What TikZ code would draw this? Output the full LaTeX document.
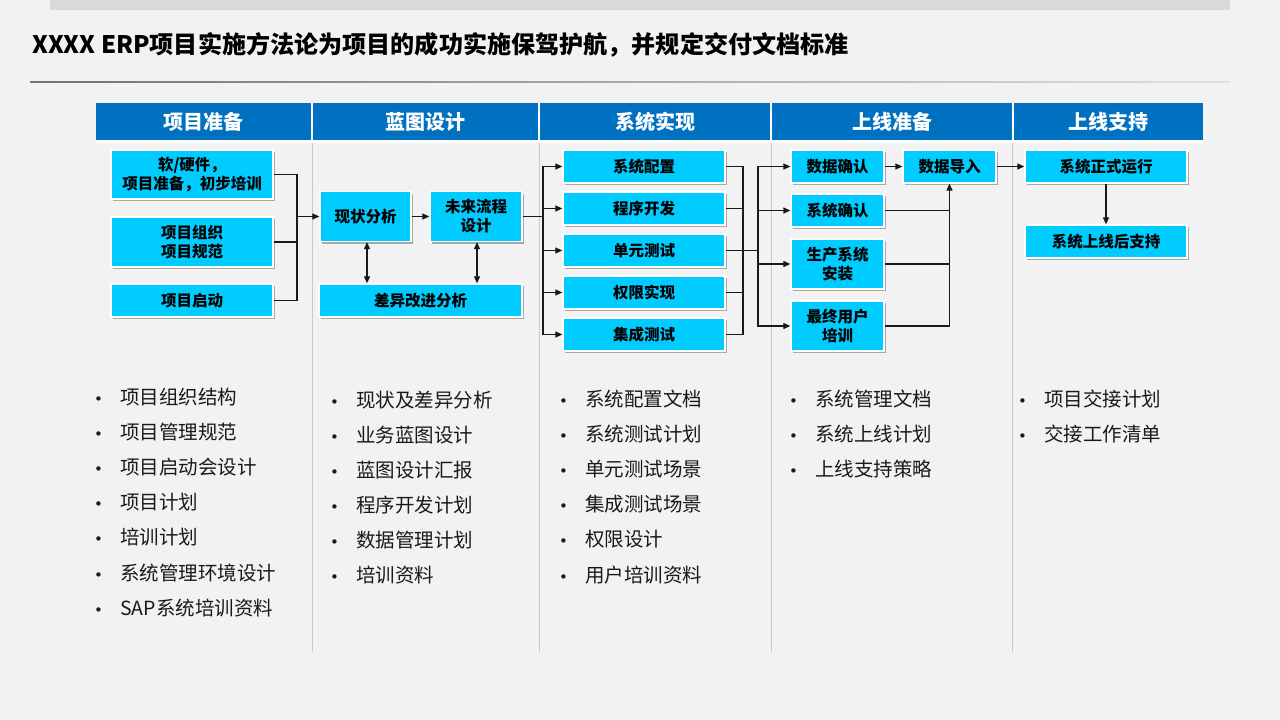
\documentclass[tikz,border=0pt]{standalone}
\usepackage{fontspec}
\setmainfont{Noto Sans CJK SC}
\newfontfamily\dejavu{DejaVu Sans}
\usetikzlibrary{arrows.meta,shadows}
\definecolor{bgc}{HTML}{F2F2F2}
\definecolor{barc}{HTML}{D9D9D9}
\definecolor{hdrc}{HTML}{0070C0}
\definecolor{boxc}{HTML}{00CCFF}
\definecolor{sepc}{HTML}{C8C8C8}
\begin{document}
\begin{tikzpicture}[x=1pt,y=-1pt,
  box/.style={rectangle, fill=boxc, draw=white, line width=1.3pt, inner sep=0pt, align=center,
    font=\bfseries\fontsize{15.5}{19}\selectfont,
    drop shadow={shadow xshift=2pt, shadow yshift=-2pt, opacity=0.3, fill=black}},
  hdr/.style={rectangle, fill=hdrc, inner sep=0pt, text=white, minimum height=37pt,
    font=\bfseries\fontsize{20}{24}\selectfont},
  conn/.style={line width=1.1pt, draw=black!90},
  arr/.style={conn, -{Triangle[length=7pt,width=6pt]}},
  dbl/.style={conn, {Triangle[length=7pt,width=6pt]}-{Triangle[length=7pt,width=6pt]}},
  bul/.style={anchor=base west, inner sep=0pt, font=\fontsize{19.5}{22}\selectfont, text=black!90},
  dot/.style={anchor=base west, inner sep=0pt, font=\dejavu\fontsize{15}{18}\selectfont, text=black!90},
]
\useasboundingbox (0,0) rectangle (1280,720);
\fill[bgc] (0,0) rectangle (1280,720);
\fill[barc] (50,0) rectangle (1230,10);

% title
\node[anchor=west, inner sep=0pt, font=\bfseries\fontsize{24.1}{28}\selectfont] (title) at (32,45)
  {XXXX ERP项目实施方法论为项目的成功实施保驾护航，并规定交付文档标准};
\shade[left color=black!55, right color=black!12] (30,81.5) rectangle (1230,82.6);

% header
\fill[white] (96,103) rectangle (1203,143);
\node[hdr, minimum width=215pt, anchor=north west] (h1) at (96,103) {项目准备};
\node[hdr, minimum width=225pt, anchor=north west] (h2) at (313,103) {蓝图设计};
\node[hdr, minimum width=230pt, anchor=north west] (h3) at (540,103) {系统实现};
\node[hdr, minimum width=240pt, anchor=north west] (h4) at (772,103) {上线准备};
\node[hdr, minimum width=189pt, anchor=north west] (h5) at (1014,103) {上线支持};

% separators
\foreach \x in {312,539,771,1012} \draw[sepc, line width=1pt] (\x,143) -- (\x,652);

% column 1
\node[box, minimum width=162pt, minimum height=49pt] (k1) at (192,174.5) {软/硬件，\\项目准备，初步培训};
\node[box, minimum width=162pt, minimum height=50pt] (k2) at (192,242) {项目组织\\项目规范};
\node[box, minimum width=162pt, minimum height=33pt] (k3) at (192,300.5) {项目启动};

% column 2
\node[box, minimum width=91pt, minimum height=50pt] (x1) at (365.5,216.5) {现状分析};
\node[box, minimum width=92pt, minimum height=50pt] (x2) at (476,216.5) {未来流程\\设计};
\node[box, minimum width=203pt, minimum height=33pt] (x3) at (420.5,300.5) {差异改进分析};

% column 3
\node[box, minimum width=162pt, minimum height=33pt] (s1) at (644,166.5) {系统配置};
\node[box, minimum width=162pt, minimum height=33pt] (s2) at (644,208.5) {程序开发};
\node[box, minimum width=162pt, minimum height=33pt] (s3) at (644,250.5) {单元测试};
\node[box, minimum width=162pt, minimum height=33pt] (s4) at (644,292.5) {权限实现};
\node[box, minimum width=162pt, minimum height=33pt] (s5) at (644,334.5) {集成测试};

% column 4
\node[box, minimum width=93pt, minimum height=33pt] (d1) at (837.5,166.5) {数据确认};
\node[box, minimum width=93pt, minimum height=33pt] (d2) at (837.5,210.5) {系统确认};
\node[box, minimum width=93pt, minimum height=50pt] (d3) at (837.5,264) {生产系统\\安装};
\node[box, minimum width=93pt, minimum height=50pt] (d4) at (837.5,326) {最终用户\\培训};
\node[box, minimum width=93pt, minimum height=33pt] (d5) at (949.5,166.5) {数据导入};

% column 5
\node[box, minimum width=162pt, minimum height=33pt] (e1) at (1106,166.5) {系统正式运行};
\node[box, minimum width=162pt, minimum height=33pt] (e2) at (1106,241.5) {系统上线后支持};

% connectors col1 -> col2
\coordinate (bus1) at (297,216.5);
\draw[conn] (k1.east) -| (bus1);
\draw[conn] (k2.east) -| (bus1);
\draw[conn] (k3.east) -| (bus1);
\draw[arr] (bus1) -- (x1.west);
\draw[arr] (x1.east) -- (x2.west);
\draw[dbl] ([xshift=1.5pt]x1.south) -- ([xshift=1.5pt]x1.south |- x3.north);
\draw[dbl] ([xshift=1pt]x2.south) -- ([xshift=1pt]x2.south |- x3.north);

% col2 -> col3
\coordinate (bus2) at (543,216.5);
\draw[conn] (x2.east) -- (bus2);
\foreach \n in {s1,s2,s3,s4,s5} \draw[arr] (bus2) |- (\n.west);

% col3 -> col4
\coordinate (bus3) at (743,250.5);
\coordinate (bus4) at (758,250.5);
\foreach \n in {s1,s2,s4,s5} \draw[conn] (\n.east) -| (bus3);
\draw[conn] (s3.east) -- (bus4);
\foreach \n in {d1,d2,d3,d4} \draw[arr] (bus4) |- (\n.west);

% col4 internal
\draw[arr] (d1.east) -- (d5.west);
\draw[conn] (d2.east) -| (d5.south);
\draw[conn] (d3.east) -| (d5.south);
\draw[arr] (d4.east) -| (d5.south);

% col4 -> col5
\draw[arr] (d5.east) -- (e1.west);
\draw[arr] (e1.south) -- (e2.north);

% bullets (baseline = centre + 7)
\foreach \t [count=\i] in {项目组织结构,项目管理规范,项目启动会设计,项目计划,培训计划,系统管理环境设计,SAP系统培训资料} {
  \node[dot] (p1d\i) at (94,{404+(\i-1)*35.2}) {•};
  \node[bul] (p1t\i) at (120,{404+(\i-1)*35.2}) {\t};
}
\foreach \t [count=\i] in {现状及差异分析,业务蓝图设计,蓝图设计汇报,程序开发计划,数据管理计划,培训资料} {
  \node[dot] (p2d\i) at (330,{407+(\i-1)*35}) {•};
  \node[bul] (p2t\i) at (356,{407+(\i-1)*35}) {\t};
}
\foreach \t [count=\i] in {系统配置文档,系统测试计划,单元测试场景,集成测试场景,权限设计,用户培训资料} {
  \node[dot] (p3d\i) at (559,{406+(\i-1)*35.2}) {•};
  \node[bul] (p3t\i) at (585,{406+(\i-1)*35.2}) {\t};
}
\foreach \t [count=\i] in {系统管理文档,系统上线计划,上线支持策略} {
  \node[dot] (p4d\i) at (789,{406+(\i-1)*35.2}) {•};
  \node[bul] (p4t\i) at (815,{406+(\i-1)*35.2}) {\t};
}
\foreach \t [count=\i] in {项目交接计划,交接工作清单} {
  \node[dot] (p5d\i) at (1018,{406+(\i-1)*35.2}) {•};
  \node[bul] (p5t\i) at (1044,{406+(\i-1)*35.2}) {\t};
}
\end{tikzpicture}
\end{document}
